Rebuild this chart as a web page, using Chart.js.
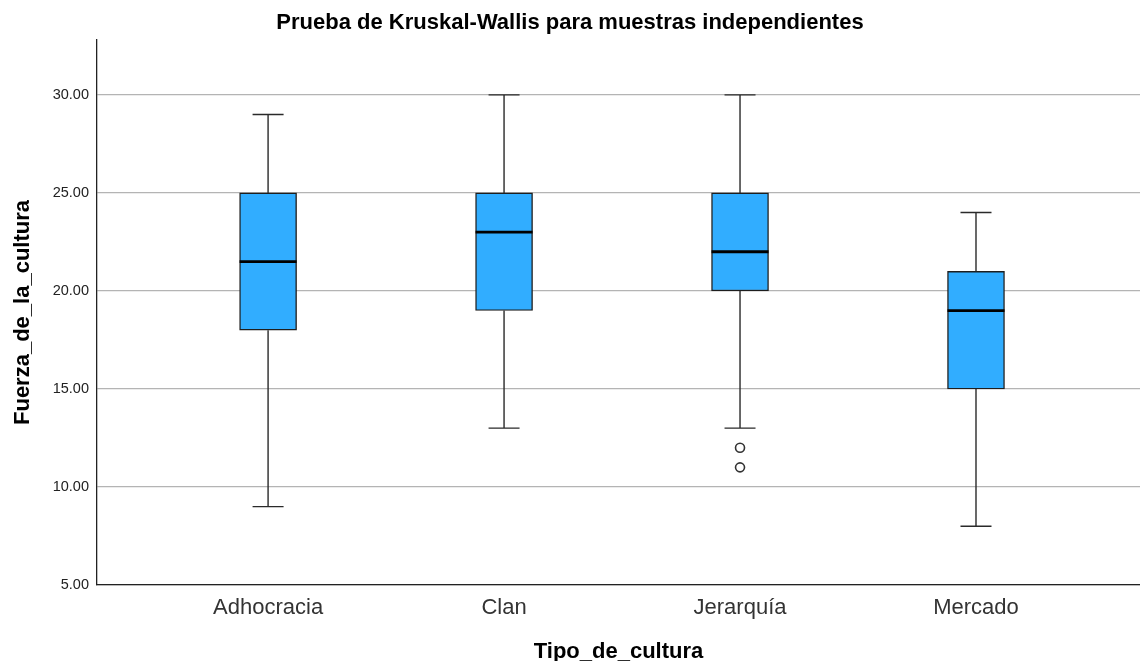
<!DOCTYPE html>
<html>
<head>
<meta charset="utf-8">
<script src="https://cdn.jsdelivr.net/npm/chart.js@4.4.1/dist/chart.umd.min.js"></script>
<style>
  html, body { margin: 0; padding: 0; background: #fff; }
  #wrap { width: 1140px; height: 661px; }
</style>
</head>
<body>
<div id="wrap"><canvas id="boxChart"></canvas></div>
<script>
// Box plot values
const categories = ['Adhocracia', 'Clan', 'Jerarquía', 'Mercado'];
const minValues = [9, 13, 13, 8];
const q1Values = [18, 19, 20, 15];
const medianValues = [21.5, 23, 22, 19];
const q3Values = [25, 25, 25, 21];
const maxValues = [29, 30, 30, 24];
const outlierCat = [2, 2];
const outlierValues = [12, 11];
const yTicks = [5, 10, 15, 20, 25, 30];

const boxData = categories.map((c, i) => ({ x: i, y: [q1Values[i], q3Values[i]] }));
const outlierData = outlierValues.map((v, i) => ({ x: outlierCat[i], y: v }));

// whiskers + median lines, drawn through the chart scales
const whiskerPlugin = {
    id: 'whiskers',
    afterDatasetsDraw(chart) {
        const ctx = chart.ctx;
        const xs = chart.scales.x;
        const ys = chart.scales.y;
        ctx.save();
        categories.forEach((c, i) => {
            const cx = xs.getPixelForValue(i);
            const capHalf = 15.5;
            const boxHalf = 28.5;
            ctx.strokeStyle = '#2a2a2a';
            ctx.lineWidth = 1.4;
            ctx.beginPath();
            ctx.moveTo(cx, ys.getPixelForValue(q3Values[i]));
            ctx.lineTo(cx, ys.getPixelForValue(maxValues[i]));
            ctx.moveTo(cx, ys.getPixelForValue(q1Values[i]));
            ctx.lineTo(cx, ys.getPixelForValue(minValues[i]));
            ctx.moveTo(cx - capHalf, ys.getPixelForValue(maxValues[i]));
            ctx.lineTo(cx + capHalf, ys.getPixelForValue(maxValues[i]));
            ctx.moveTo(cx - capHalf, ys.getPixelForValue(minValues[i]));
            ctx.lineTo(cx + capHalf, ys.getPixelForValue(minValues[i]));
            ctx.stroke();
            // median
            ctx.strokeStyle = '#000';
            ctx.lineWidth = 2.8;
            ctx.beginPath();
            ctx.moveTo(cx - boxHalf, ys.getPixelForValue(medianValues[i]));
            ctx.lineTo(cx + boxHalf, ys.getPixelForValue(medianValues[i]));
            ctx.stroke();
        });
        ctx.restore();
    }
};

const ctx = document.getElementById('boxChart').getContext('2d');
new Chart(ctx, {
    type: 'bar',
    data: {
        datasets: [
            {
                type: 'scatter',
                data: outlierData,
                pointRadius: 4.5,
                pointBackgroundColor: '#fff',
                pointBorderColor: '#333',
                pointBorderWidth: 1.6,
                order: 0
            },
            {
                data: boxData,
                backgroundColor: '#31adff',
                borderColor: '#1e1e1e',
                borderWidth: 1.4,
                borderSkipped: false,
                barThickness: 57,
                grouped: false,
                order: 1
            }
        ]
    },
    options: {
        responsive: true,
        maintainAspectRatio: false,
        animation: false,
        layout: { padding: 0, autoPadding: false },
        plugins: {
            legend: { display: false },
            tooltip: { enabled: false },
            title: {
                display: true,
                text: 'Prueba de Kruskal-Wallis para muestras independientes',
                color: '#000',
                font: { family: 'Liberation Sans', size: 22, weight: 'bold' },
                padding: { top: 10, bottom: 3.6 }
            }
        },
        scales: {
            x: {
                type: 'linear',
                offset: false,
                min: -0.725,
                max: 3.695,
                afterBuildTicks: s => { s.ticks = categories.map((c, i) => ({ value: i })); },
                afterFit: s => { s.height = 76; s.paddingLeft = 0; s.paddingRight = 0; },
                grid: { display: false, drawTicks: false },
                border: { display: true, color: '#222', width: 1.3 },
                ticks: {
                    callback: v => categories[v],
                    color: '#333',
                    padding: 10,
                    maxRotation: 0,
                    autoSkip: false,
                    font: { family: 'Liberation Sans', size: 22 }
                },
                title: {
                    display: true,
                    text: 'Tipo_de_cultura',
                    color: '#000',
                    font: { family: 'Liberation Sans', size: 22, weight: 'bold', lineHeight: 0.8 },
                    padding: 0
                }
            },
            y: {
                min: 5,
                max: 32.8,
                afterBuildTicks: s => { s.ticks = yTicks.map(v => ({ value: v })); },
                afterFit: s => { s.width = 97; },
                grid: { color: '#b4b4b4', lineWidth: 1.2, drawTicks: false },
                border: { display: true, color: '#222', width: 1.3 },
                ticks: {
                    callback: v => v.toFixed(2),
                    color: '#222',
                    padding: 8,
                    font: { family: 'Liberation Sans', size: 14.5 }
                },
                title: {
                    display: true,
                    text: 'Fuerza_de_la_cultura',
                    color: '#000',
                    font: { family: 'Liberation Sans', size: 22, weight: 'bold' },
                    padding: { top: 10, bottom: 0 }
                }
            }
        }
    },
    plugins: [whiskerPlugin]
});
</script>
</body>
</html>
